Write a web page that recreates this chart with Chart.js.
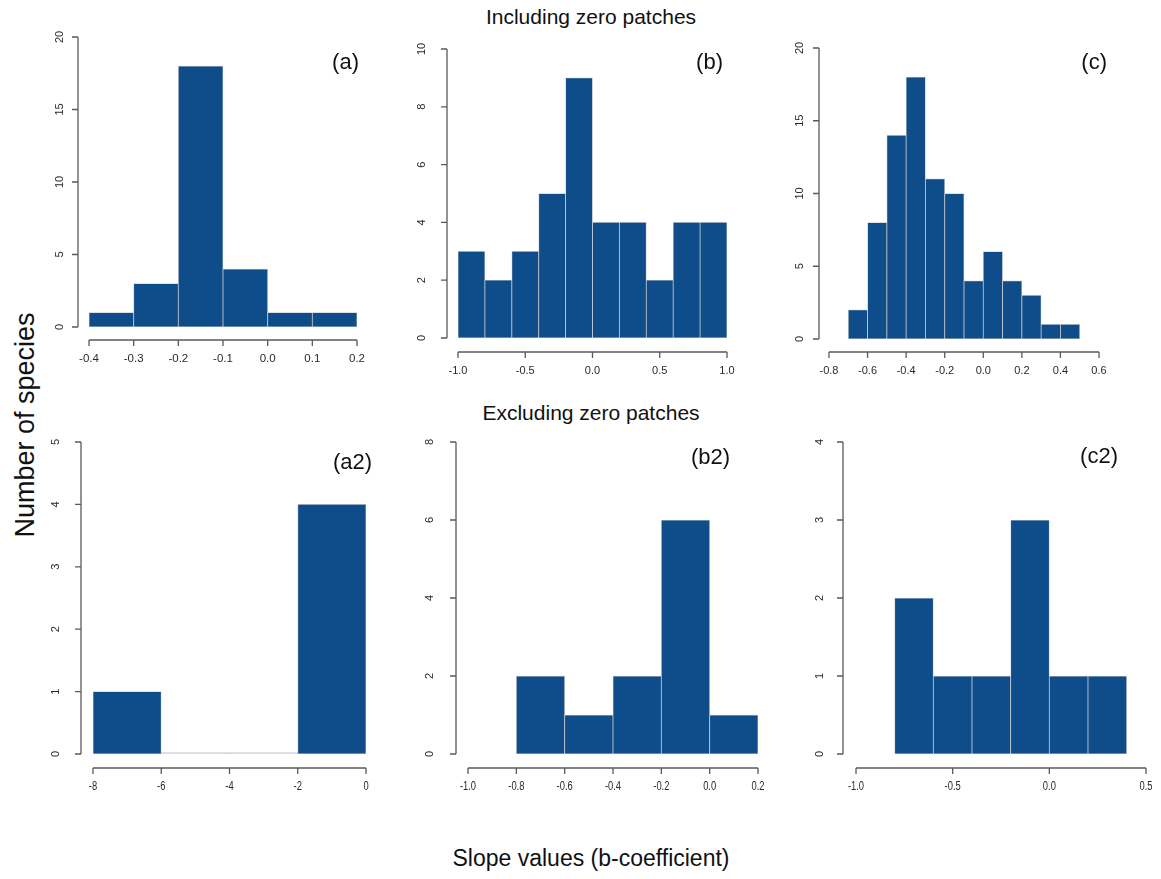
<!DOCTYPE html>
<html>
<head>
<meta charset="utf-8">
<script src="https://cdn.jsdelivr.net/npm/chart.js"></script>
<style>
  body { margin: 0; background: #fff; width: 1161px; height: 879px; position: relative; overflow: hidden;
         font-family: "Liberation Sans", Arial, sans-serif; }
  canvas { position: absolute; }
  .txt { position: absolute; color: #111; white-space: nowrap; }
  .plab { position: absolute; font-size: 22px; color: #111; transform: translate(-100%, -50%); white-space: nowrap; }
</style>
</head>
<body>
<div class="txt" style="left:591px; top:17px; font-size:21px; transform:translate(-50%,-50%)">Including zero patches</div>
<div class="txt" style="left:591px; top:413px; font-size:21px; transform:translate(-50%,-50%)">Excluding zero patches</div>
<div class="txt" style="left:25px; top:425px; font-size:27px; transform:translate(-50%,-50%) rotate(-90deg)">Number of species</div>
<div class="txt" style="left:591px; top:858px; font-size:23px; transform:translate(-50%,-50%)">Slope values (b-coefficient)</div>

<script>
// histogram bin centres and counts
const binsA = [-0.35, -0.25, -0.15, -0.05, 0.05, 0.15];
const countsA = [1, 3, 18, 4, 1, 1];
const binsB = [-0.9, -0.7, -0.5, -0.3, -0.1, 0.1, 0.3, 0.5, 0.7, 0.9];
const countsB = [3, 2, 3, 5, 9, 4, 4, 2, 4, 4];
const binsC = [-0.65, -0.55, -0.45, -0.35, -0.25, -0.15, -0.05, 0.05, 0.15, 0.25, 0.35, 0.45];
const countsC = [2, 8, 14, 18, 11, 10, 4, 6, 4, 3, 1, 1];
const binsA2 = [-7, -5, -3, -1];
const countsA2 = [1, 0, 0, 4];
const binsB2 = [-0.7, -0.5, -0.3, -0.1, 0.1];
const countsB2 = [2, 1, 2, 6, 1];
const binsC2 = [-0.7, -0.5, -0.3, -0.1, 0.1, 0.3];
const countsC2 = [2, 1, 1, 3, 1, 1];

// tick labels
const xTicksA = ['-0.4', '-0.3', '-0.2', '-0.1', '0.0', '0.1', '0.2'];
const yTicksA = ['0', '5', '10', '15', '20'];
const xTicksB = ['-1.0', '-0.5', '0.0', '0.5', '1.0'];
const yTicksB = ['0', '2', '4', '6', '8', '10'];
const xTicksC = ['-0.8', '-0.6', '-0.4', '-0.2', '0.0', '0.2', '0.4', '0.6'];
const yTicksC = ['0', '5', '10', '15', '20'];
const xTicksA2 = ['-8', '-6', '-4', '-2', '0'];
const yTicksA2 = ['0', '1', '2', '3', '4', '5'];
const xTicksB2 = ['-1.0', '-0.8', '-0.6', '-0.4', '-0.2', '0.0', '0.2'];
const yTicksB2 = ['0', '2', '4', '6', '8'];
const xTicksC2 = ['-1.0', '-0.5', '0.0', '0.5'];
const yTicksC2 = ['0', '1', '2', '3', '4'];

const panelNames = ['(a)', '(b)', '(c)', '(a2)', '(b2)', '(c2)'];

const BAR = '#0f4c8a';
const EDGE = '#c4c9cf';

// R style axes: detached lines spanning first..last tick, rotated y labels
const rAxes = {
  id: 'rAxes',
  afterDraw(chart, args, o) {
    const { ctx, chartArea } = chart;
    const xs = chart.scales.x, ys = chart.scales.y;
    ctx.save();
    ctx.strokeStyle = '#5a5a5a';
    ctx.lineWidth = 1.3;
    ctx.fillStyle = '#2a2a2a';

    // y axis
    const ax = chartArea.left - o.yGap;
    const yv = o.yTicks.map(Number);
    ctx.beginPath();
    ctx.moveTo(ax, ys.getPixelForValue(yv[0]));
    ctx.lineTo(ax, ys.getPixelForValue(yv[yv.length - 1]));
    yv.forEach(v => {
      const py = ys.getPixelForValue(v);
      ctx.moveTo(ax, py);
      ctx.lineTo(ax - 6, py);
    });
    ctx.stroke();
    ctx.font = '11px "Liberation Sans", Arial, sans-serif';
    ctx.textAlign = 'center';
    ctx.textBaseline = 'middle';
    o.yTicks.forEach((lab, i) => {
      const py = ys.getPixelForValue(yv[i]);
      ctx.save();
      ctx.translate(ax - o.yLab, py);
      ctx.rotate(-Math.PI / 2);
      ctx.fillText(lab, 0, 0);
      ctx.restore();
    });

    // x axis
    const ay = chartArea.bottom + o.xGap;
    const xv = o.xTicks.map(Number);
    ctx.beginPath();
    ctx.moveTo(xs.getPixelForValue(xv[0]), ay);
    ctx.lineTo(xs.getPixelForValue(xv[xv.length - 1]), ay);
    xv.forEach(v => {
      const px = xs.getPixelForValue(v);
      ctx.moveTo(px, ay);
      ctx.lineTo(px, ay + 6);
    });
    ctx.stroke();
    ctx.font = o.xFont + 'px "Liberation Sans", Arial, sans-serif';
    o.xTicks.forEach((lab, i) => {
      ctx.save();
      ctx.translate(xs.getPixelForValue(xv[i]), ay + 19);
      ctx.scale(o.xSquash, 1);
      ctx.fillText(lab, 0, 0);
      ctx.restore();
    });
    ctx.restore();
  }
};

// plot areas (first/last x tick, top/zero y tick) in page pixels
const panels = [
  { bins: binsA, counts: countsA, xt: xTicksA, yt: yTicksA, box: [89, 37, 357, 327], xGap: 13, yGap: 11, yLab: 18, lab: [359, 62], xFont: 11.5, xSquash: 1 },
  { bins: binsB, counts: countsB, xt: xTicksB, yt: yTicksB, box: [458, 49, 727, 338], xGap: 14, yGap: 11, yLab: 25, lab: [723, 62], xFont: 11, xSquash: 1 },
  { bins: binsC, counts: countsC, xt: xTicksC, yt: yTicksC, box: [829, 48, 1099, 339], xGap: 13, yGap: 10, yLab: 19, lab: [1107, 62], xFont: 11, xSquash: 1 },
  { bins: binsA2, counts: countsA2, xt: xTicksA2, yt: yTicksA2, box: [93, 442, 366, 754], xGap: 14, yGap: 12, yLab: 25, lab: [372, 462], xFont: 12.5, xSquash: 0.75 },
  { bins: binsB2, counts: countsB2, xt: xTicksB2, yt: yTicksB2, box: [468, 442, 758, 754], xGap: 14, yGap: 12, yLab: 26, lab: [730, 457], xFont: 12.5, xSquash: 0.75 },
  { bins: binsC2, counts: countsC2, xt: xTicksC2, yt: yTicksC2, box: [856, 442, 1146, 754], xGap: 14, yGap: 13, yLab: 23, lab: [1118, 456], xFont: 12.5, xSquash: 0.75 }
];

const PAD = { left: 70, top: 30, right: 40, bottom: 40 };

panels.forEach((p, k) => {
  const [l, t, r, b] = p.box;
  const canvas = document.createElement('canvas');
  const w = r - l + PAD.left + PAD.right;
  const h = b - t + PAD.top + PAD.bottom;
  canvas.style.left = (l - PAD.left) + 'px';
  canvas.style.top = (t - PAD.top) + 'px';
  canvas.style.width = w + 'px';
  canvas.style.height = h + 'px';
  canvas.width = w;
  canvas.height = h;
  document.body.appendChild(canvas);

  const label = document.createElement('div');
  label.className = 'plab';
  label.style.left = p.lab[0] + 'px';
  label.style.top = p.lab[1] + 'px';
  label.textContent = panelNames[k];
  document.body.appendChild(label);

  const xv = p.xt.map(Number), yv = p.yt.map(Number);

  new Chart(canvas, {
    type: 'bar',
    data: {
      datasets: [{
        data: p.bins.map((x, i) => ({ x: x, y: p.counts[i] })),
        backgroundColor: c => (c.raw && c.raw.y === 0) ? '#d6d6d6' : BAR,
        borderColor: EDGE,
        borderWidth: 0.75,
        borderSkipped: false,
        minBarLength: 1.5,
        barPercentage: 1,
        categoryPercentage: 1
      }]
    },
    options: {
      responsive: false,
      animation: false,
      layout: { padding: PAD },
      scales: {
        x: { type: 'linear', display: false, offset: false, min: xv[0], max: xv[xv.length - 1] },
        y: { type: 'linear', display: false, min: yv[0], max: yv[yv.length - 1] }
      },
      plugins: {
        legend: { display: false },
        tooltip: { enabled: false },
        rAxes: { xTicks: p.xt, yTicks: p.yt, xGap: p.xGap, yGap: p.yGap, yLab: p.yLab, xFont: p.xFont, xSquash: p.xSquash }
      }
    },
    plugins: [rAxes]
  });
});
</script>
</body>
</html>
